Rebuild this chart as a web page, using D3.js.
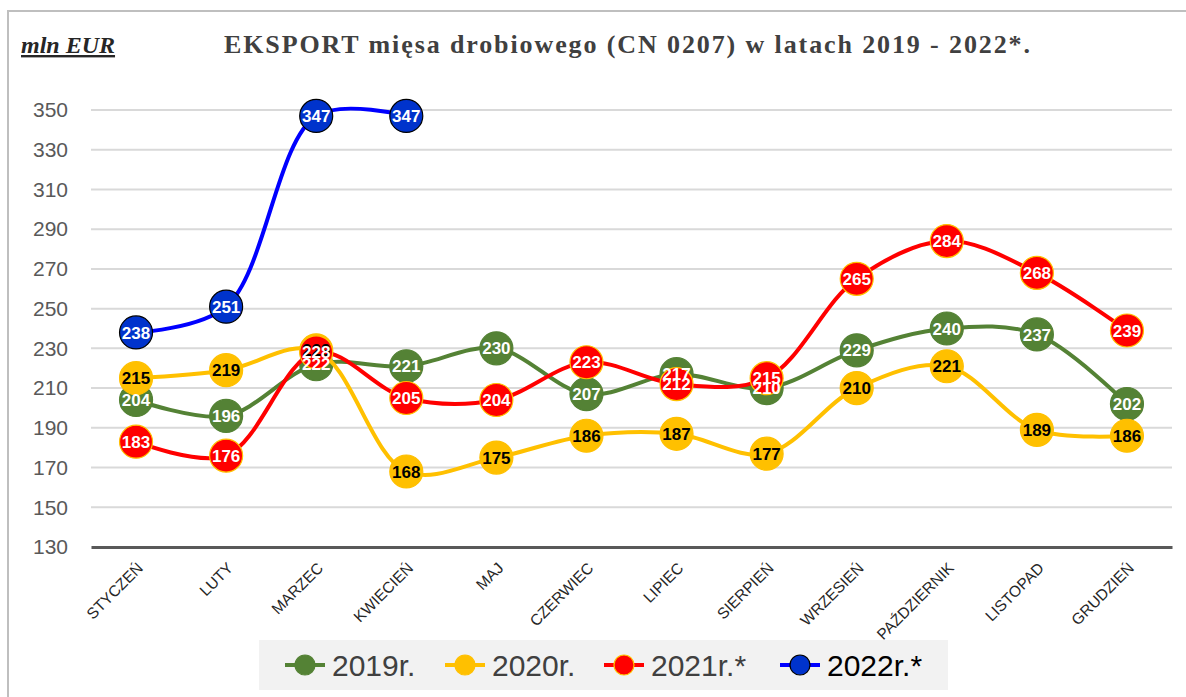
<!DOCTYPE html>
<html>
<head>
<meta charset="utf-8">
<script src="https://cdn.jsdelivr.net/npm/d3@7"></script>
<style>
  body { margin: 0; background: #fff; }
</style>
</head>
<body>
<div class="chart"></div>
<script>
// data
const months = ["STYCZEŃ", "LUTY", "MARZEC", "KWIECIEŃ", "MAJ", "CZERWIEC",
  "LIPIEC", "SIERPIEŃ", "WRZESIEŃ", "PAŹDZIERNIK", "LISTOPAD", "GRUDZIEŃ"];
const y2019 = [204, 196, 222, 221, 230, 207, 217, 210, 229, 240, 237, 202];
const y2020 = [215, 219, 229, 168, 175, 186, 187, 177, 210, 221, 189, 186];
const y2021 = [183, 176, 228, 205, 204, 223, 212, 215, 265, 284, 268, 239];
const y2022 = [238, 251, 347, 347];
const yTicks = [130, 150, 170, 190, 210, 230, 250, 270, 290, 310, 330, 350];

const svgWidth = 1186;
const svgHeight = 697;
const sans = "'Liberation Sans', Arial, sans-serif";
const serif = "'Liberation Serif', 'Times New Roman', serif";

const series = [
  { name: "2019r.", values: y2019, line: "#548235", fill: "#548235", stroke: "#548235", label: "#fff", legendText: "#404040" },
  { name: "2020r.", values: y2020, line: "#ffc000", fill: "#ffc000", stroke: "#ffc000", label: "#000", legendText: "#404040" },
  { name: "2021r.*", values: y2021, line: "#ff0000", fill: "#ff0000", stroke: "#ffc000", label: "#fff", legendText: "#404040" },
  { name: "2022r.*", values: y2022, line: "#0000ff", fill: "#0033cc", stroke: "#000", label: "#fff", legendText: "#000" }
];

const svg = d3.select(".chart")
  .append("svg")
  .attr("width", svgWidth)
  .attr("height", svgHeight)
  .style("font-family", sans);

// frame (top + left only visible)
svg.append("path")
  .attr("d", `M8,${svgHeight} L8,11 L${svgWidth},11`)
  .attr("fill", "none")
  .attr("stroke", "#bfbfbf")
  .attr("stroke-width", 2);

// scales
const xScale = d3.scaleBand()
  .domain(months)
  .range([91, 1172]);

const yScale = d3.scaleLinear()
  .domain([130, 350])
  .range([547, 110]);

const xc = d => xScale(d) + xScale.bandwidth() / 2;

// gridlines
svg.append("g")
  .selectAll("line")
  .data(yTicks.filter(t => t > 130))
  .enter()
  .append("line")
  .attr("x1", 91)
  .attr("x2", 1172)
  .attr("y1", d => yScale(d))
  .attr("y2", d => yScale(d))
  .attr("stroke", "#d9d9d9")
  .attr("stroke-width", 2);

// y axis labels
const leftAxis = d3.axisLeft(yScale).tickValues(yTicks).tickSize(0).tickPadding(0);
const yAxis = svg.append("g")
  .attr("transform", "translate(68,0)")
  .call(leftAxis);
yAxis.select(".domain").remove();
yAxis.selectAll("text")
  .style("font-family", sans)
  .style("font-size", "21px")
  .attr("fill", "#595959");

// x axis
const bottomAxis = d3.axisBottom(xScale).tickSize(0).tickPadding(0);
const xAxis = svg.append("g")
  .attr("transform", "translate(0,547)")
  .call(bottomAxis);
xAxis.select(".domain")
  .attr("stroke", "#595959")
  .attr("stroke-width", 3);
xAxis.selectAll("text")
  .style("font-family", sans)
  .style("font-size", "15.5px")
  .attr("fill", "#262626")
  .attr("text-anchor", "end")
  .attr("dy", 0)
  .attr("transform", "translate(8,22) rotate(-45)");

// lines
const line = d3.line()
  .x((d, i) => xc(months[i]))
  .y(d => yScale(d))
  .curve(d3.curveCatmullRom.alpha(0.5));

series.forEach(s => {
  const g = svg.append("g");
  g.append("path")
    .datum(s.values)
    .attr("d", line)
    .attr("fill", "none")
    .attr("stroke", s.line)
    .attr("stroke-width", 4);

  g.selectAll("circle")
    .data(s.values)
    .enter()
    .append("circle")
    .attr("cx", (d, i) => xc(months[i]))
    .attr("cy", d => yScale(d))
    .attr("r", 16.5)
    .attr("fill", s.fill)
    .attr("stroke", s.stroke)
    .attr("stroke-width", 1.2);
});

// data labels on top of everything
series.forEach(s => {
  svg.append("g")
    .selectAll("text")
    .data(s.values)
    .enter()
    .append("text")
    .attr("x", (d, i) => xc(months[i]))
    .attr("y", d => yScale(d))
    .attr("dy", "0.36em")
    .attr("text-anchor", "middle")
    .style("font-size", "17px")
    .style("font-weight", 700)
    .attr("fill", s.label)
    .text(d => d);
});

// title
svg.append("text")
  .attr("x", 224)
  .attr("y", 53)
  .attr("textLength", 806)
  .attr("lengthAdjust", "spacing")
  .style("font-family", serif)
  .style("font-size", "26px")
  .style("font-weight", 700)
  .attr("fill", "#404040")
  .text("EKSPORT mięsa drobiowego (CN 0207) w latach 2019 - 2022*.");

// unit label
svg.append("text")
  .attr("x", 21)
  .attr("y", 53)
  .style("font-family", serif)
  .style("font-size", "24px")
  .style("font-weight", 700)
  .style("font-style", "italic")
  .style("text-decoration", "underline")
  .attr("fill", "#262626")
  .text("mln EUR");

// legend
svg.append("rect")
  .attr("x", 259)
  .attr("y", 640)
  .attr("width", 689)
  .attr("height", 50)
  .attr("fill", "#f2f2f2");

const legendX = [305, 465, 624, 800];
const legend = svg.selectAll(".legendItem")
  .data(series)
  .enter()
  .append("g")
  .classed("legendItem", true)
  .attr("transform", (d, i) => `translate(${legendX[i]},665)`);

legend.append("line")
  .attr("x1", -20)
  .attr("x2", 20)
  .attr("stroke", d => d.line)
  .attr("stroke-width", 4);

legend.append("circle")
  .attr("r", 10)
  .attr("fill", d => d.fill)
  .attr("stroke", d => d.stroke)
  .attr("stroke-width", 1.2);

legend.append("text")
  .attr("x", 27)
  .attr("dy", "0.36em")
  .style("font-size", "30px")
  .attr("fill", d => d.legendText)
  .text(d => d.name);
</script>
</body>
</html>
